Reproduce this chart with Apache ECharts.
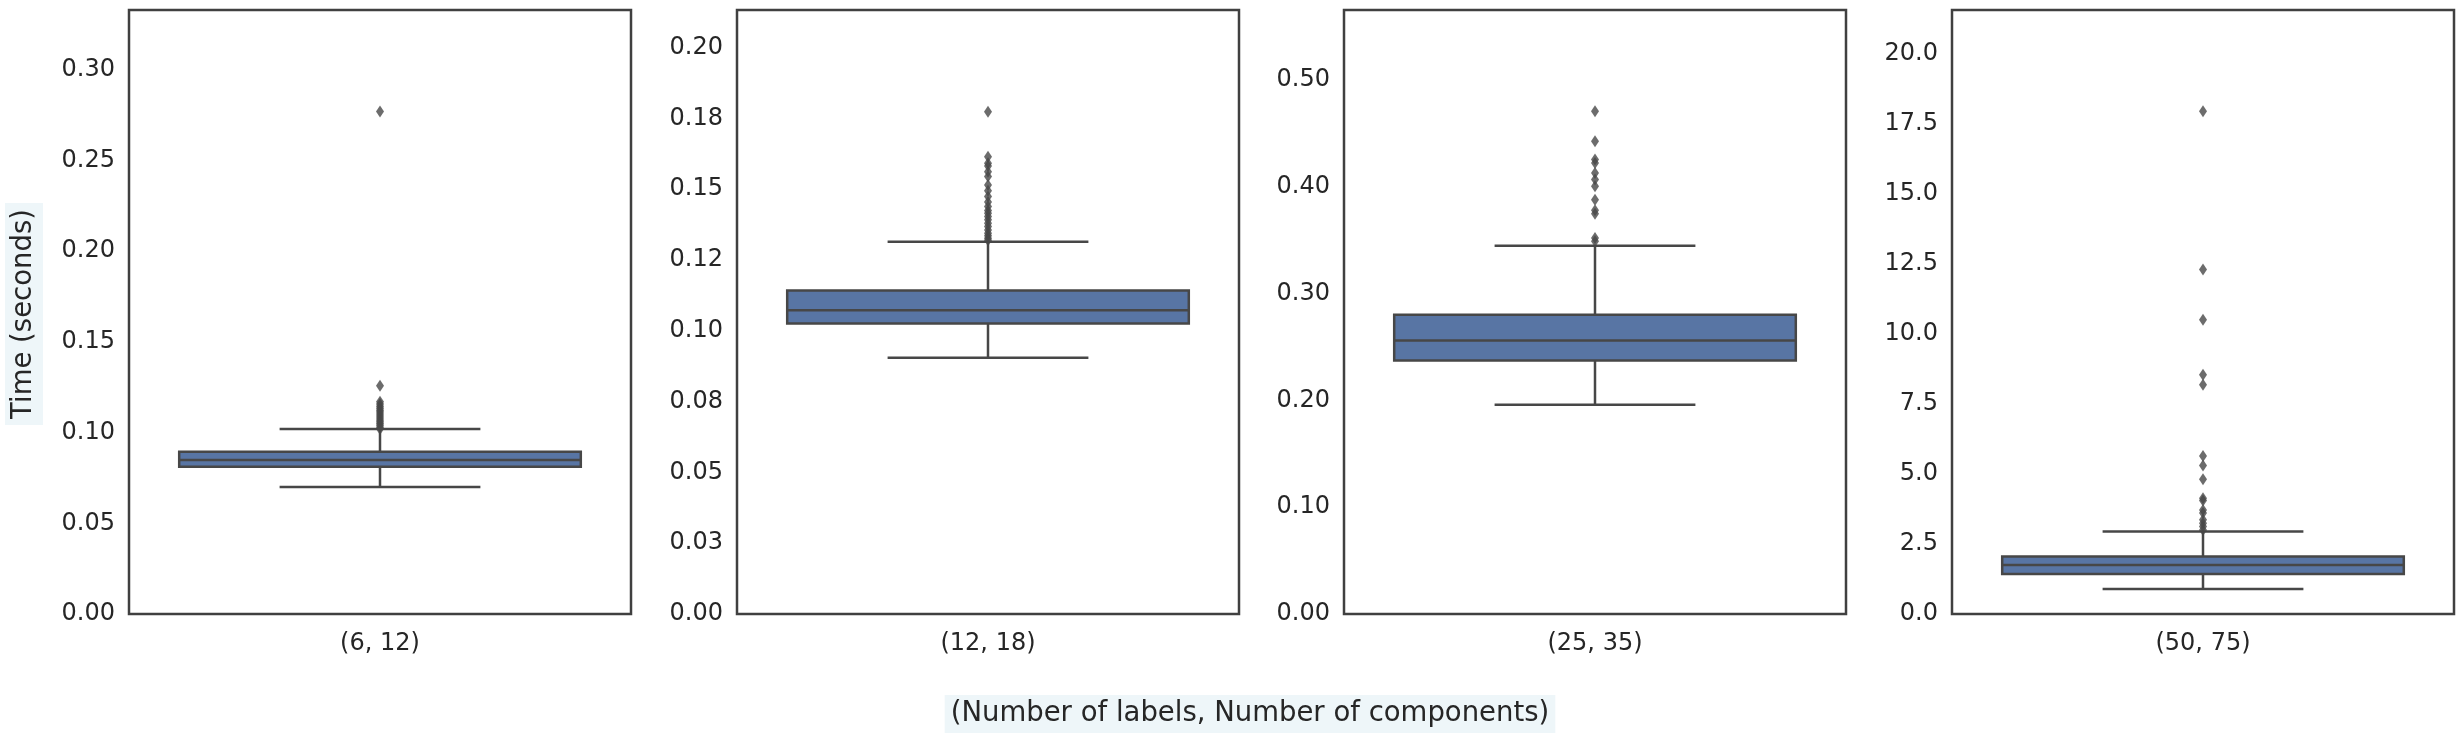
<html>
<head>
    <title>Time per configuration</title>
    <meta http-equiv="Content-Type" content="text/html; charset=utf-8" />
    <style>body{margin:0;background:#fff;}</style>
</head>
<body>
<div id="chart" style="width: 2464px;height: 738px"></div>
<script type="text/javascript" src="https://cdn.jsdelivr.net/npm/echarts@6/dist/echarts.min.js"></script>
<script type="text/javascript">
// box statistics, one entry per panel
var categories = ['(6, 12)', '(12, 18)', '(25, 35)', '(50, 75)'];
var lowWhisker = [0.070, 0.0905, 0.196, 0.89];
var q1 = [0.0812, 0.1026, 0.2374, 1.43];
var median = [0.0849, 0.1073, 0.2562, 1.75];
var q3 = [0.0895, 0.1142, 0.2802, 2.05];
var highWhisker = [0.102, 0.1315, 0.3449, 2.94];

// outliers (fliers)
var outliers6 = [0.277, 0.1259, 0.117, 0.1158, 0.1146, 0.1135, 0.1124, 0.1113, 0.1102, 0.1091, 0.108, 0.107, 0.106, 0.105, 0.104, 0.103, 0.102];
var outliers12 = [0.1774, 0.1615, 0.1592, 0.1582, 0.1562, 0.1545, 0.1515, 0.1495, 0.1474, 0.1455, 0.1439, 0.1425, 0.1415, 0.1404, 0.1392, 0.138, 0.1368, 0.1356, 0.1345, 0.1336, 0.1327, 0.132];
var outliers25 = [0.4708, 0.4427, 0.4255, 0.4224, 0.413, 0.4068, 0.4005, 0.388, 0.378, 0.3749, 0.3521, 0.349];
var outliers50 = [17.94, 12.29, 10.5, 8.54, 8.18, 5.64, 5.3, 4.81, 4.13, 4.05, 3.71, 3.6, 3.36, 3.24, 3.12, 3.0];
var outliers = [outliers6, outliers12, outliers25, outliers50];

// y axes
var yMax = [0.333, 0.2133, 0.5656, 21.55];
var yInterval = [0.05, 0.025, 0.1, 2.5];
var yLabels1 = ['0.00', '0.05', '0.10', '0.15', '0.20', '0.25', '0.30'];
var yLabels2 = ['0.00', '0.03', '0.05', '0.08', '0.10', '0.12', '0.15', '0.18', '0.20'];
var yLabels3 = ['0.00', '0.10', '0.20', '0.30', '0.40', '0.50'];
var yLabels4 = ['0.0', '2.5', '5.0', '7.5', '10.0', '12.5', '15.0', '17.5', '20.0'];
var yLabels = [yLabels1, yLabels2, yLabels3, yLabels4];

var xTitle = '(Number of labels, Number of components)';
var yTitle = 'Time (seconds)';

var font = 'DejaVu Sans';
var textColor = '#262626';
var lineColor = '#474747';
var boxColor = '#5875a4';
var gridLeft = [129, 737, 1344, 1952];

var myChart = echarts.init(document.getElementById('chart'));

function renderBox(params, api) {
    var x = api.value(0);
    var band = api.size([1, 0])[0];
    var cx = api.coord([x, 0])[0];
    var yLo = api.coord([x, api.value(1)])[1];
    var yQ1 = api.coord([x, api.value(2)])[1];
    var yMed = api.coord([x, api.value(3)])[1];
    var yQ3 = api.coord([x, api.value(4)])[1];
    var yHi = api.coord([x, api.value(5)])[1];
    var bw = band * 0.8, cw = band * 0.4;
    var ls = {stroke: lineColor, lineWidth: 2.5};
    return {
        type: 'group',
        children: [
            {type: 'line', shape: {x1: cx, y1: yQ3, x2: cx, y2: yHi}, style: ls},
            {type: 'line', shape: {x1: cx, y1: yQ1, x2: cx, y2: yLo}, style: ls},
            {type: 'line', shape: {x1: cx - cw / 2, y1: yHi, x2: cx + cw / 2, y2: yHi}, style: ls},
            {type: 'line', shape: {x1: cx - cw / 2, y1: yLo, x2: cx + cw / 2, y2: yLo}, style: ls},
            {type: 'rect', shape: {x: cx - bw / 2, y: yQ3, width: bw, height: yQ1 - yQ3},
                style: {fill: boxColor, stroke: lineColor, lineWidth: 2.5}},
            {type: 'line', shape: {x1: cx - bw / 2, y1: yMed, x2: cx + bw / 2, y2: yMed}, style: ls}
        ]
    };
}

var grids = [], xAxes = [], yAxes = [], series = [];
for (var i = 0; i < 4; i++) {
    grids.push({
        left: gridLeft[i], top: 10, width: 502, height: 604,
        show: true, borderColor: '#404040', borderWidth: 2.5, backgroundColor: 'transparent'
    });
    xAxes.push({
        type: 'category', gridIndex: i, data: [categories[i]],
        axisLine: {show: false}, axisTick: {show: false},
        axisLabel: {fontSize: 24, fontFamily: font, color: textColor, margin: 18}
    });
    (function (k) {
        yAxes.push({
            type: 'value', gridIndex: k, min: 0, max: yMax[k], interval: yInterval[k],
            axisLine: {show: false}, axisTick: {show: false}, splitLine: {show: false},
            axisLabel: {
                fontSize: 24, fontFamily: font, color: textColor, margin: 14, showMaxLabel: false,
                formatter: function (v) {
                    var idx = Math.round(v / yInterval[k]);
                    if (Math.abs(v - idx * yInterval[k]) > 1e-9) return '';
                    return yLabels[k][idx] || '';
                }
            }
        });
    })(i);
    series.push({
        type: 'custom', xAxisIndex: i, yAxisIndex: i,
        renderItem: renderBox,
        encode: {x: 0, y: [1, 2, 3, 4, 5]},
        data: [[0, lowWhisker[i], q1[i], median[i], q3[i], highWhisker[i]]]
    });
    series.push({
        type: 'scatter', xAxisIndex: i, yAxisIndex: i,
        symbol: 'diamond', symbolSize: [8, 12],
        itemStyle: {color: lineColor},
        data: outliers[i].map(function (v) { return [0, v]; })
    });
}

var option = {
    animation: false,
    backgroundColor: '#ffffff',
    grid: grids,
    xAxis: xAxes,
    yAxis: yAxes,
    series: series,
    graphic: [
        {
            type: 'text', x: 1250, y: 714,
            style: {
                text: xTitle, fontSize: 27.5, fontFamily: font, fill: textColor,
                align: 'center', verticalAlign: 'middle',
                backgroundColor: '#eef6f9', padding: [5, 6]
            }
        },
        {
            type: 'text', x: 24, y: 314, rotation: Math.PI / 2,
            style: {
                text: yTitle, fontSize: 27.5, fontFamily: font, fill: textColor,
                align: 'center', verticalAlign: 'middle',
                backgroundColor: '#eef6f9', padding: [5, 6]
            }
        }
    ]
};
myChart.setOption(option);
</script>
</body>
</html>
